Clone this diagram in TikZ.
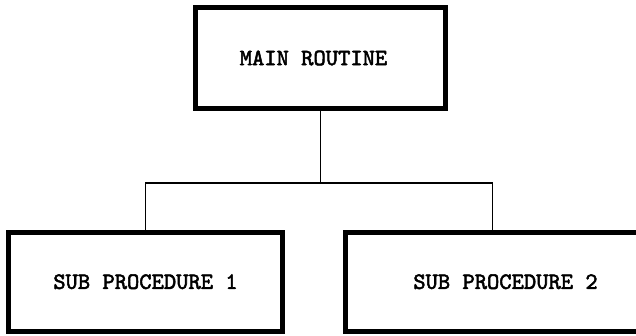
\documentclass[tikz,border=0pt]{standalone}
\usepackage{fontspec}
\newfontfamily\routinefont[FakeBold=2.3]{lmmono10-regular.otf}
\usepackage{tikz}
\usetikzlibrary{positioning}

\begin{document}
\begin{tikzpicture}[x=1bp,y=-1bp,
    routinebox/.style={draw,line width=5bp,inner sep=0pt,
      font=\routinefont\fontsize{23.5}{26}\selectfont},
    link/.style={line width=1.5bp}]
        \useasboundingbox (0,0) rectangle (636,335);
        \clip (0,0) rectangle (636,335);

        % main routine on top
        \node[routinebox,minimum width=250bp,minimum height=101bp]
          (main) at (320.5,58) {\hspace*{-14bp}MAIN ROUTINE};

        % the two sub procedures below
        \node[routinebox,minimum width=274bp,minimum height=98.5bp]
          (sub1) at (145.5,281.75) {SUB PROCEDURE 1};
        \node[routinebox,minimum width=320bp,minimum height=98.5bp]
          (sub2) at (505.5,281.75) {SUB PROCEDURE 2};

        % tree connectors
        \coordinate (split) at (320.5,183);
        \coordinate (drop2) at ([xshift=149.5bp]sub2.north west);
        \draw[link] (main.south) -- (split);
        \draw[link] (sub1.north) |- (split) -| (drop2);
      \end{tikzpicture}
\end{document}
